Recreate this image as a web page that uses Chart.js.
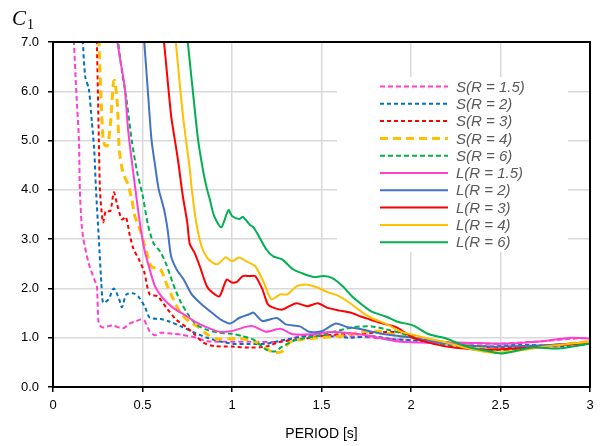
<!DOCTYPE html>
<html><head><meta charset="utf-8">
<script src="https://cdn.jsdelivr.net/npm/chart.js@4/dist/chart.umd.min.js"></script>
<style>html,body{margin:0;padding:0;background:#fff}#wrap{width:600px;height:446px}</style>
</head><body><div id="wrap"><canvas id="c" width="600" height="446"></canvas></div>
<script>
const xTickLabels = ['0','0.5','1','1.5','2','2.5','3'];
const yTickLabels = ['0.0','1.0','2.0','3.0','4.0','5.0','6.0','7.0'];
const seriesLabels = ['S(R = 1.5)','S(R = 2)','S(R = 3)','S(R = 4)','S(R = 6)','L(R = 1.5)','L(R = 2)','L(R = 3)','L(R = 4)','L(R = 6)'];

const periodS15 = [0.10,0.117,0.13,0.145,0.15,0.16,0.17,0.20,0.23,0.245,0.255,0.275,0.33,0.39,0.43,0.46,0.49,0.51,0.54,0.57,0.60,0.67,0.72,0.80,0.86,0.97,1.10,1.28,1.38,1.5,1.7,1.9,2.1,2.3,2.5,2.7,2.9,3.0];
const c1S15 = [8.5,7.0,6.0,5.0,4.0,3.3,3.0,2.5,2.19,2.05,1.3,1.21,1.25,1.19,1.29,1.33,1.37,1.35,1.13,1.05,1.1,1.08,1.06,1.0,0.93,0.92,0.92,0.92,1.03,1.05,1.02,0.97,0.93,0.88,0.88,0.92,0.98,1.0];

const periodS2 = [0.16,0.167,0.18,0.20,0.217,0.23,0.24,0.256,0.27,0.28,0.31,0.34,0.37,0.385,0.41,0.45,0.48,0.515,0.54,0.60,0.65,0.72,0.78,0.86,0.93,1.0,1.1,1.19,1.30,1.42,1.55,1.66,1.78,1.9,2.0,2.2,2.44,2.6,2.87,3.0];
const c1S2 = [7.6,7.0,6.3,6.05,5.38,4.83,4.02,3.0,2.12,1.71,1.78,2.0,1.78,1.62,1.88,1.9,1.82,1.61,1.41,1.38,1.33,1.22,1.12,1.0,0.93,0.88,0.87,0.88,0.96,1.03,1.03,1.0,1.03,0.97,0.95,0.88,0.82,0.86,0.82,0.88];

const periodS3 = [0.24,0.245,0.256,0.262,0.27,0.28,0.295,0.32,0.34,0.357,0.385,0.407,0.43,0.45,0.48,0.51,0.54,0.585,0.635,0.69,0.75,0.79,0.84,0.9,1.0,1.10,1.19,1.27,1.38,1.49,1.60,1.71,1.82,1.94,2.05,2.3,2.5,2.8,3.0];
const c1S3 = [7.6,7.0,5.03,4.02,3.61,3.34,3.57,3.57,3.95,3.72,3.4,3.45,3.06,2.8,2.59,2.33,1.88,1.84,1.6,1.36,1.2,1.07,0.9,0.83,0.82,0.8,0.82,0.92,0.96,1.03,1.07,1.07,1.11,1.11,1.0,0.85,0.8,0.85,0.92];

const periodS4 = [0.25,0.257,0.27,0.28,0.29,0.305,0.32,0.338,0.346,0.36,0.37,0.39,0.42,0.44,0.457,0.485,0.52,0.55,0.60,0.635,0.67,0.71,0.76,0.81,0.86,0.91,0.99,1.06,1.14,1.23,1.28,1.32,1.38,1.49,1.60,1.71,1.82,1.94,2.1,2.4,2.5,2.8,3.0];
const c1S4 = [7.6,7.0,5.71,5.03,4.9,4.9,5.3,6.2,6.22,5.71,4.83,4.36,4.1,3.81,3.47,3.2,2.77,2.44,2.39,2.08,1.8,1.51,1.33,1.22,1.07,0.98,0.98,0.98,0.9,0.7,0.72,0.9,0.96,1.0,1.03,1.11,1.13,1.03,0.95,0.8,0.75,0.85,0.92];

const periodS6 = [0.36,0.365,0.385,0.41,0.44,0.47,0.50,0.53,0.56,0.60,0.635,0.67,0.71,0.755,0.80,0.86,0.93,1.0,1.06,1.12,1.19,1.24,1.28,1.36,1.47,1.56,1.67,1.78,1.86,1.94,2.1,2.3,2.5,2.8,3.0];
const c1S6 = [7.6,7.0,6.4,5.85,5.0,4.36,3.9,3.3,2.93,2.74,2.47,2.1,1.75,1.47,1.27,1.16,1.1,1.08,1.03,0.96,0.76,0.72,0.82,0.96,1.03,1.11,1.21,1.23,1.17,1.1,0.9,0.8,0.75,0.85,0.9];

const periodL15 = [0.35,0.36,0.40,0.42,0.46,0.485,0.51,0.54,0.57,0.61,0.67,0.75,0.80,0.86,0.93,0.99,1.04,1.09,1.12,1.19,1.27,1.34,1.45,1.53,1.60,1.71,1.78,1.86,1.94,2.1,2.3,2.5,2.7,2.9,3.0];
const c1L15 = [7.6,7.0,6.1,5.2,4.02,3.34,2.8,2.39,2.04,1.82,1.61,1.43,1.31,1.21,1.12,1.13,1.18,1.23,1.23,1.12,1.18,1.07,1.07,1.11,1.11,1.07,1.03,0.97,0.92,0.90,0.90,0.88,0.92,1.0,0.98];

const periodL2 = [0.50,0.51,0.53,0.55,0.57,0.59,0.62,0.64,0.66,0.69,0.73,0.775,0.83,0.89,0.94,0.99,1.04,1.10,1.12,1.17,1.25,1.30,1.38,1.43,1.50,1.58,1.64,1.71,1.82,1.94,2.01,2.2,2.44,2.7,3.0];
const c1L2 = [7.6,7.0,6.0,5.03,4.5,4.02,3.61,3.2,2.65,2.39,2.18,1.88,1.68,1.50,1.36,1.29,1.40,1.48,1.51,1.34,1.40,1.27,1.23,1.12,1.13,1.29,1.22,1.18,1.09,1.03,1.0,0.88,0.82,0.84,0.9];

const periodL3 = [0.60,0.62,0.66,0.68,0.70,0.725,0.75,0.764,0.79,0.82,0.86,0.89,0.93,0.97,1.0,1.03,1.06,1.10,1.13,1.17,1.20,1.23,1.28,1.32,1.36,1.42,1.48,1.53,1.60,1.66,1.72,1.77,1.82,1.92,2.01,2.1,2.2,2.38,2.57,2.75,3.0];
const c1L3 = [7.6,7.0,5.5,5.03,4.56,3.88,3.34,2.9,2.73,2.45,2.04,1.92,1.84,2.18,2.12,2.14,2.25,2.25,2.25,1.98,1.68,1.61,1.57,1.64,1.70,1.64,1.70,1.61,1.55,1.51,1.43,1.37,1.31,1.21,1.0,0.9,0.82,0.76,0.78,0.82,0.9];

const periodL4 = [0.67,0.686,0.726,0.764,0.775,0.80,0.83,0.86,0.89,0.92,0.965,1.0,1.04,1.08,1.13,1.18,1.22,1.27,1.31,1.36,1.41,1.47,1.53,1.60,1.66,1.73,1.78,1.86,1.94,2.0,2.1,2.2,2.32,2.44,2.57,2.75,3.0];
const c1L4 = [7.6,7.0,5.5,4.42,4.02,3.34,2.85,2.63,2.53,2.49,2.63,2.55,2.63,2.55,2.45,2.1,1.78,1.88,1.88,2.04,2.08,2.03,1.93,1.84,1.70,1.51,1.40,1.28,1.13,1.07,0.98,0.9,0.78,0.70,0.72,0.82,0.92];

const periodL6 = [0.74,0.753,0.78,0.81,0.84,0.86,0.876,0.90,0.94,0.98,1.0,1.04,1.06,1.10,1.12,1.15,1.19,1.23,1.28,1.34,1.39,1.46,1.51,1.56,1.62,1.67,1.73,1.78,1.86,1.92,2.01,2.10,2.20,2.31,2.44,2.50,2.57,2.68,2.81,2.90,3.0];
const c1L6 = [7.6,7.0,6.05,5.03,4.36,4.02,3.81,3.47,3.24,3.59,3.47,3.41,3.45,3.29,3.24,3.06,2.80,2.65,2.59,2.39,2.31,2.23,2.25,2.21,2.04,1.84,1.66,1.53,1.43,1.33,1.25,1.07,0.98,0.82,0.72,0.68,0.72,0.80,0.78,0.82,0.88];

const seriesPeriods = [periodS15,periodS2,periodS3,periodS4,periodS6,periodL15,periodL2,periodL3,periodL4,periodL6];
const seriesValues = [c1S15,c1S2,c1S3,c1S4,c1S6,c1L15,c1L2,c1L3,c1L4,c1L6];
const seriesColors = ['#FF3FCF','#0070C0','#FF0000','#FFC000','#00B050','#FF3FCF','#4472C4','#FF0000','#FFC000','#00B050'];
const seriesDashes = [[5,3],[4,3],[4,3],[8,5],[5,3],[],[],[],[],[]];
const seriesWidths = [2,2,2,3,2,2,2,2,2,2];

const FONT = "'Liberation Sans', Arial, sans-serif";

const datasets = seriesLabels.map((lab, i) => ({
  label: lab,
  data: seriesPeriods[i].map((t, k) => ({x: t, y: seriesValues[i][k]})),
  borderColor: seriesColors[i],
  backgroundColor: seriesColors[i],
  borderWidth: seriesWidths[i],
  borderDash: seriesDashes[i],
  pointRadius: 0,
  fill: false,
  tension: 0.25,
  order: 10 - i
}));

const framePlugin = {
  id: 'frame',
  afterDatasetsDraw(chart) {
    const {ctx, chartArea: a} = chart;
    ctx.save();
    ctx.strokeStyle = '#000';
    ctx.lineWidth = 2;
    ctx.strokeRect(a.left, a.top, a.right - a.left, a.bottom - a.top);
    ctx.restore();
  },
  afterDraw(chart) {
    const {ctx} = chart;
    ctx.save();
    // legend box
    ctx.fillStyle = '#fff';
    ctx.fillRect(337, 77, 231, 175);
    chart.data.datasets.forEach((ds, i) => {
      const y = 86.5 + i * 17.3;
      ctx.beginPath();
      ctx.strokeStyle = ds.borderColor;
      ctx.lineWidth = ds.borderWidth;
      ctx.setLineDash(ds.borderDash);
      ctx.moveTo(380, y);
      ctx.lineTo(448, y);
      ctx.stroke();
      ctx.setLineDash([]);
      ctx.fillStyle = '#595959';
      ctx.font = "italic 15px " + FONT;
      ctx.textBaseline = 'middle';
      ctx.textAlign = 'left';
      ctx.fillText(ds.label, 456, y + 1);
    });
    // y-axis title C1
    ctx.fillStyle = '#000';
    ctx.textBaseline = 'alphabetic';
    ctx.font = "italic 21px 'Liberation Serif', 'Times New Roman', serif";
    ctx.fillText('C', 12, 25);
    ctx.font = "14px 'Liberation Serif', 'Times New Roman', serif";
    ctx.fillText('1', 27, 29);
    ctx.restore();
  }
};

new Chart(document.getElementById('c'), {
  type: 'line',
  data: {datasets},
  options: {
    responsive: false,
    animation: false,
    layout: {padding: {left: 0, top: 42, right: 10, bottom: 0}},
    plugins: {legend: {display: false}, tooltip: {enabled: false}},
    scales: {
      x: {
        type: 'linear', min: 0, max: 3,
        afterFit(s) { s.height = 59; },
        ticks: {
          stepSize: 0.5, padding: 6, color: '#000', font: {family: FONT, size: 13},
          callback: (v) => xTickLabels[Math.round(v * 2)]
        },
        grid: {color: '#D9D9D9', lineWidth: 1.5, tickColor: '#000', tickLength: 5, tickWidth: 1.5},
        border: {color: '#000', width: 2},
        title: {display: true, text: 'PERIOD [s]', color: '#000', font: {family: FONT, size: 14}, padding: {top: 4, bottom: 3}}
      },
      y: {
        type: 'linear', min: 0, max: 7,
        afterFit(s) { s.width = 53; },
        ticks: {
          stepSize: 1, padding: 9, color: '#000', font: {family: FONT, size: 13},
          callback: (v) => yTickLabels[Math.round(v)]
        },
        grid: {color: '#D9D9D9', lineWidth: 1.5, tickColor: '#000', tickLength: 5, tickWidth: 1.5},
        border: {color: '#000', width: 2}
      }
    }
  },
  plugins: [framePlugin]
});
</script>
</body></html>
